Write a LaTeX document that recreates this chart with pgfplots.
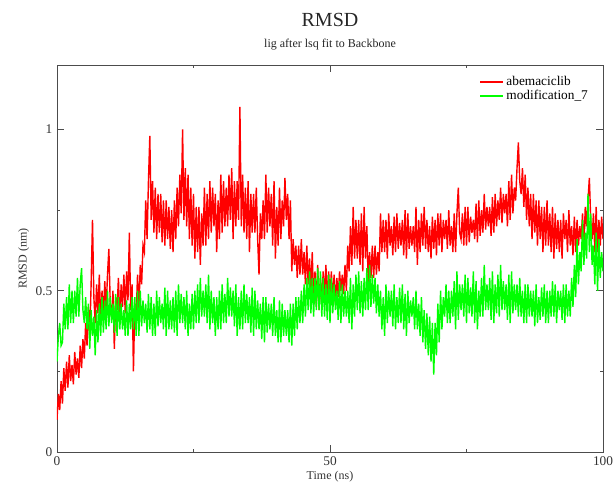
\documentclass[border=0pt]{standalone}
\usepackage{pgfplots}
\pgfplotsset{compat=1.18}
\usepackage{fontspec}
\setmainfont{Liberation Serif}
\definecolor{gracered}{RGB}{255,0,0}
\definecolor{gracegreen}{RGB}{0,255,0}
\begin{document}
\begin{tikzpicture}
\begin{axis}[
  scale only axis, width=409.5pt, height=290.25pt,
  xmin=0, xmax=100, ymin=0, ymax=1.2,
  xtick={0,50,100}, ytick={0,0.5,1},
  minor xtick={25,75}, minor ytick={0.25,0.75},
  tick align=inside, major tick length=5pt, minor tick length=2.5pt,
  axis line style={black!70, line width=0.7pt},
  every tick/.style={black!70, line width=0.7pt},
  /pgf/number format/assume math mode=true,
  tick label style={font=\fontsize{10}{12}\selectfont, text=black!80},
  yticklabel style={/pgf/number format/fixed},
  xlabel={Time (ns)}, ylabel={RMSD (nm)},
  label style={font=\fontsize{9}{11}\selectfont, text=black!80},
  xlabel style={yshift=3pt}, ylabel style={yshift=-2pt},
  legend style={draw=none, fill=none, at={(0.985,0.985)}, anchor=north east,
    font=\fontsize{10}{11}\selectfont, row sep=-2pt},
  legend cell align=left,
  clip=true,
]
\coordinate (ll) at (rel axis cs:0,0);
\coordinate (ur) at (rel axis cs:1,1);
\coordinate (tc) at (rel axis cs:0.5,1);
% abemaciclib, read every 0.25 ns
\addplot[gracered, line width=1.05pt] coordinates {
(0,0.10) (0.25,0.18) (0.5,0.13) (0.75,0.22)
(1,0.15) (1.25,0.26) (1.5,0.19) (1.75,0.28)
(2,0.20) (2.25,0.30) (2.5,0.22) (2.75,0.27)
(3,0.21) (3.25,0.31) (3.5,0.24) (3.75,0.29)
(4,0.23) (4.25,0.33) (4.5,0.26) (4.75,0.35)
(5,0.29) (5.25,0.40) (5.5,0.33) (5.75,0.45)
(6,0.36) (6.25,0.52) (6.5,0.72) (6.75,0.48)
(7,0.40) (7.25,0.52) (7.5,0.43) (7.75,0.55)
(8,0.40) (8.25,0.50) (8.5,0.42) (8.75,0.53)
(9,0.44) (9.25,0.55) (9.5,0.63) (9.75,0.46)
(10,0.42) (10.25,0.50) (10.5,0.32) (10.75,0.48)
(11,0.44) (11.25,0.54) (11.5,0.40) (11.75,0.52)
(12,0.45) (12.25,0.55) (12.5,0.43) (12.75,0.56)
(13,0.47) (13.25,0.68) (13.5,0.44) (13.75,0.52)
(14,0.25) (14.25,0.46) (14.5,0.42) (14.75,0.55)
(15,0.44) (15.25,0.58) (15.5,0.52) (15.75,0.64)
(16,0.62) (16.25,0.78) (16.5,0.66) (16.75,0.84)
(17,0.98) (17.25,0.72) (17.5,0.84) (17.75,0.68)
(18,0.82) (18.25,0.66) (18.5,0.80) (18.75,0.68)
(19,0.80) (19.25,0.65) (19.5,0.78) (19.75,0.64)
(20,0.78) (20.25,0.66) (20.5,0.76) (20.75,0.63)
(21,0.75) (21.25,0.62) (21.5,0.78) (21.75,0.66)
(22,0.82) (22.25,0.70) (22.5,0.86) (22.75,0.74)
(23,1.00) (23.25,0.72) (23.5,0.88) (23.75,0.70)
(24,0.86) (24.25,0.66) (24.5,0.82) (24.75,0.64)
(25,0.80) (25.25,0.60) (25.5,0.76) (25.75,0.62)
(26,0.76) (26.25,0.58) (26.5,0.74) (26.75,0.64)
(27,0.82) (27.25,0.64) (27.5,0.80) (27.75,0.66)
(28,0.84) (28.25,0.68) (28.5,0.82) (28.75,0.70)
(29,0.80) (29.25,0.62) (29.5,0.78) (29.75,0.66)
(30,0.86) (30.25,0.68) (30.5,0.84) (30.75,0.70)
(31,0.82) (31.25,0.70) (31.5,0.86) (31.75,0.72)
(32,0.88) (32.25,0.66) (32.5,0.84) (32.75,0.70)
(33,0.84) (33.25,0.72) (33.5,1.07) (33.75,0.70)
(34,0.86) (34.25,0.68) (34.5,0.82) (34.75,0.66)
(35,0.84) (35.25,0.62) (35.5,0.80) (35.75,0.68)
(36,0.80) (36.25,0.68) (36.5,0.82) (36.75,0.66)
(37,0.55) (37.25,0.74) (37.5,0.66) (37.75,0.78)
(38,0.66) (38.25,0.86) (38.5,0.68) (38.75,0.82)
(39,0.70) (39.25,0.80) (39.5,0.64) (39.75,0.84)
(40,0.60) (40.25,0.76) (40.5,0.64) (40.75,0.82)
(41,0.66) (41.25,0.78) (41.5,0.70) (41.75,0.85)
(42,0.72) (42.25,0.80) (42.5,0.66) (42.75,0.78)
(43,0.56) (43.25,0.66) (43.5,0.58) (43.75,0.64)
(44,0.54) (44.25,0.64) (44.5,0.55) (44.75,0.66)
(45,0.55) (45.25,0.62) (45.5,0.52) (45.75,0.64)
(46,0.52) (46.25,0.60) (46.5,0.50) (46.75,0.62)
(47,0.46) (47.25,0.56) (47.5,0.45) (47.75,0.58)
(48,0.44) (48.25,0.54) (48.5,0.46) (48.75,0.56)
(49,0.48) (49.25,0.58) (49.5,0.47) (49.75,0.56)
(50,0.48) (50.25,0.56) (50.5,0.46) (50.75,0.55)
(51,0.46) (51.25,0.54) (51.5,0.48) (51.75,0.56)
(52,0.50) (52.25,0.55) (52.5,0.49) (52.75,0.58)
(53,0.50) (53.25,0.64) (53.5,0.56) (53.75,0.70)
(54,0.58) (54.25,0.76) (54.5,0.60) (54.75,0.72)
(55,0.60) (55.25,0.72) (55.5,0.58) (55.75,0.74)
(56,0.56) (56.25,0.76) (56.5,0.60) (56.75,0.70)
(57,0.52) (57.25,0.62) (57.5,0.54) (57.75,0.64)
(58,0.54) (58.25,0.64) (58.5,0.55) (58.75,0.62)
(59,0.56) (59.25,0.74) (59.5,0.62) (59.75,0.72)
(60,0.62) (60.25,0.72) (60.5,0.60) (60.75,0.74)
(61,0.64) (61.25,0.70) (61.5,0.61) (61.75,0.73)
(62,0.62) (62.25,0.74) (62.5,0.63) (62.75,0.71)
(63,0.64) (63.25,0.72) (63.5,0.61) (63.75,0.75)
(64,0.60) (64.25,0.74) (64.5,0.63) (64.75,0.70)
(65,0.64) (65.25,0.70) (65.5,0.62) (65.75,0.76)
(66,0.58) (66.25,0.72) (66.5,0.62) (66.75,0.74)
(67,0.64) (67.25,0.76) (67.5,0.63) (67.75,0.72)
(68,0.62) (68.25,0.70) (68.5,0.60) (68.75,0.73)
(69,0.63) (69.25,0.72) (69.5,0.61) (69.75,0.74)
(70,0.64) (70.25,0.74) (70.5,0.62) (70.75,0.72)
(71,0.66) (71.25,0.72) (71.5,0.63) (71.75,0.75)
(72,0.64) (72.25,0.70) (72.5,0.62) (72.75,0.74)
(73,0.62) (73.25,0.74) (73.5,0.82) (73.75,0.68)
(74,0.66) (74.25,0.74) (74.5,0.64) (74.75,0.76)
(75,0.64) (75.25,0.76) (75.5,0.65) (75.75,0.73)
(76,0.68) (76.25,0.72) (76.5,0.66) (76.75,0.77)
(77,0.65) (77.25,0.78) (77.5,0.67) (77.75,0.75)
(78,0.68) (78.25,0.80) (78.5,0.69) (78.75,0.76)
(79,0.70) (79.25,0.76) (79.5,0.67) (79.75,0.79)
(80,0.68) (80.25,0.80) (80.5,0.70) (80.75,0.78)
(81,0.72) (81.25,0.82) (81.5,0.71) (81.75,0.80)
(82,0.74) (82.25,0.80) (82.5,0.70) (82.75,0.84)
(83,0.72) (83.25,0.86) (83.5,0.74) (83.75,0.82)
(84,0.78) (84.25,0.88) (84.5,0.96) (84.75,0.84)
(85,0.80) (85.25,0.88) (85.5,0.76) (85.75,0.86)
(86,0.72) (86.25,0.82) (86.5,0.70) (86.75,0.80)
(87,0.66) (87.25,0.80) (87.5,0.68) (87.75,0.78)
(88,0.64) (88.25,0.78) (88.5,0.66) (88.75,0.76)
(89,0.62) (89.25,0.76) (89.5,0.64) (89.75,0.78)
(90,0.64) (90.25,0.74) (90.5,0.62) (90.75,0.76)
(91,0.60) (91.25,0.74) (91.5,0.63) (91.75,0.72)
(92,0.62) (92.25,0.72) (92.5,0.60) (92.75,0.74)
(93,0.66) (93.25,0.72) (93.5,0.62) (93.75,0.75)
(94,0.64) (94.25,0.70) (94.5,0.61) (94.75,0.73)
(95,0.62) (95.25,0.72) (95.5,0.64) (95.75,0.70)
(96,0.66) (96.25,0.74) (96.5,0.63) (96.75,0.76)
(97,0.70) (97.25,0.78) (97.5,0.85) (97.75,0.72)
(98,0.66) (98.25,0.74) (98.5,0.62) (98.75,0.76)
(99,0.62) (99.25,0.72) (99.5,0.64) (99.75,0.73)
(100,0.66)
};
\addlegendentry{abemaciclib}
% modification_7, read every 0.25 ns
\addplot[gracegreen, line width=1.05pt] coordinates {
(0,0.28) (0.25,0.36) (0.5,0.40) (0.75,0.33)
(1,0.34) (1.25,0.46) (1.5,0.38) (1.75,0.48)
(2,0.38) (2.25,0.52) (2.5,0.40) (2.75,0.50)
(3,0.40) (3.25,0.50) (3.5,0.42) (3.75,0.54)
(4,0.42) (4.25,0.52) (4.5,0.57) (4.75,0.44)
(5,0.40) (5.25,0.48) (5.5,0.38) (5.75,0.46)
(6,0.32) (6.25,0.44) (6.5,0.36) (6.75,0.42)
(7,0.30) (7.25,0.44) (7.5,0.34) (7.75,0.46)
(8,0.36) (8.25,0.48) (8.5,0.37) (8.75,0.47)
(9,0.38) (9.25,0.50) (9.5,0.39) (9.75,0.48)
(10,0.40) (10.25,0.46) (10.5,0.37) (10.75,0.49)
(11,0.36) (11.25,0.48) (11.5,0.38) (11.75,0.46)
(12,0.38) (12.25,0.44) (12.5,0.36) (12.75,0.47)
(13,0.36) (13.25,0.46) (13.5,0.38) (13.75,0.48)
(14,0.38) (14.25,0.48) (14.5,0.36) (14.75,0.50)
(15,0.36) (15.25,0.50) (15.5,0.39) (15.75,0.47)
(16,0.40) (16.25,0.46) (16.5,0.37) (16.75,0.49)
(17,0.38) (17.25,0.48) (17.5,0.36) (17.75,0.46)
(18,0.36) (18.25,0.50) (18.5,0.39) (18.75,0.48)
(19,0.40) (19.25,0.46) (19.5,0.38) (19.75,0.51)
(20,0.36) (20.25,0.50) (20.5,0.38) (20.75,0.47)
(21,0.38) (21.25,0.48) (21.5,0.37) (21.75,0.50)
(22,0.36) (22.25,0.52) (22.5,0.40) (22.75,0.49)
(23,0.40) (23.25,0.48) (23.5,0.38) (23.75,0.50)
(24,0.36) (24.25,0.46) (24.5,0.38) (24.75,0.49)
(25,0.38) (25.25,0.50) (25.5,0.40) (25.75,0.52)
(26,0.40) (26.25,0.54) (26.5,0.42) (26.75,0.50)
(27,0.42) (27.25,0.52) (27.5,0.40) (27.75,0.55)
(28,0.38) (28.25,0.50) (28.5,0.40) (28.75,0.48)
(29,0.36) (29.25,0.48) (29.5,0.38) (29.75,0.50)
(30,0.38) (30.25,0.52) (30.5,0.40) (30.75,0.49)
(31,0.40) (31.25,0.54) (31.5,0.42) (31.75,0.51)
(32,0.42) (32.25,0.50) (32.5,0.39) (32.75,0.52)
(33,0.36) (33.25,0.48) (33.5,0.38) (33.75,0.50)
(34,0.38) (34.25,0.52) (34.5,0.40) (34.75,0.49)
(35,0.40) (35.25,0.48) (35.5,0.37) (35.75,0.51)
(36,0.36) (36.25,0.50) (36.5,0.38) (36.75,0.47)
(37,0.38) (37.25,0.46) (37.5,0.35) (37.75,0.48)
(38,0.34) (38.25,0.48) (38.5,0.37) (38.75,0.46)
(39,0.38) (39.25,0.46) (39.5,0.36) (39.75,0.48)
(40,0.36) (40.25,0.44) (40.5,0.34) (40.75,0.47)
(41,0.34) (41.25,0.46) (41.5,0.36) (41.75,0.44)
(42,0.36) (42.25,0.44) (42.5,0.34) (42.75,0.46)
(43,0.33) (43.25,0.46) (43.5,0.36) (43.75,0.48)
(44,0.38) (44.25,0.48) (44.5,0.40) (44.75,0.50)
(45,0.40) (45.25,0.52) (45.5,0.42) (45.75,0.54)
(46,0.44) (46.25,0.56) (46.5,0.43) (46.75,0.54)
(47,0.42) (47.25,0.54) (47.5,0.44) (47.75,0.57)
(48,0.44) (48.25,0.56) (48.5,0.42) (48.75,0.54)
(49,0.42) (49.25,0.52) (49.5,0.41) (49.75,0.55)
(50,0.40) (50.25,0.54) (50.5,0.43) (50.75,0.52)
(51,0.44) (51.25,0.50) (51.5,0.41) (51.75,0.53)
(52,0.40) (52.25,0.52) (52.5,0.42) (52.75,0.50)
(53,0.42) (53.25,0.50) (53.5,0.40) (53.75,0.54)
(54,0.38) (54.25,0.52) (54.5,0.42) (54.75,0.55)
(55,0.44) (55.25,0.56) (55.5,0.43) (55.75,0.53)
(56,0.42) (56.25,0.54) (56.5,0.44) (56.75,0.57)
(57,0.44) (57.25,0.58) (57.5,0.45) (57.75,0.55)
(58,0.46) (58.25,0.54) (58.5,0.43) (58.75,0.52)
(59,0.42) (59.25,0.50) (59.5,0.38) (59.75,0.48)
(60,0.36) (60.25,0.52) (60.5,0.40) (60.75,0.50)
(61,0.42) (61.25,0.50) (61.5,0.39) (61.75,0.52)
(62,0.38) (62.25,0.48) (62.5,0.40) (62.75,0.51)
(63,0.40) (63.25,0.52) (63.5,0.38) (63.75,0.49)
(64,0.36) (64.25,0.50) (64.5,0.40) (64.75,0.47)
(65,0.42) (65.25,0.48) (65.5,0.38) (65.75,0.50)
(66,0.38) (66.25,0.46) (66.5,0.36) (66.75,0.48)
(67,0.34) (67.25,0.44) (67.5,0.32) (67.75,0.43)
(68,0.30) (68.25,0.42) (68.5,0.28) (68.75,0.40)
(69,0.24) (69.25,0.40) (69.5,0.30) (69.75,0.46)
(70,0.34) (70.25,0.50) (70.5,0.38) (70.75,0.48)
(71,0.42) (71.25,0.52) (71.5,0.40) (71.75,0.50)
(72,0.40) (72.25,0.50) (72.5,0.42) (72.75,0.53)
(73,0.38) (73.25,0.56) (73.5,0.41) (73.75,0.52)
(74,0.44) (74.25,0.52) (74.5,0.42) (74.75,0.55)
(75,0.40) (75.25,0.54) (75.5,0.43) (75.75,0.51)
(76,0.42) (76.25,0.56) (76.5,0.40) (76.75,0.53)
(77,0.38) (77.25,0.50) (77.5,0.42) (77.75,0.54)
(78,0.42) (78.25,0.58) (78.5,0.44) (78.75,0.52)
(79,0.44) (79.25,0.54) (79.5,0.41) (79.75,0.56)
(80,0.40) (80.25,0.52) (80.5,0.43) (80.75,0.55)
(81,0.42) (81.25,0.58) (81.5,0.44) (81.75,0.53)
(82,0.44) (82.25,0.52) (82.5,0.41) (82.75,0.55)
(83,0.40) (83.25,0.56) (83.5,0.43) (83.75,0.52)
(84,0.44) (84.25,0.52) (84.5,0.42) (84.75,0.54)
(85,0.42) (85.25,0.50) (85.5,0.40) (85.75,0.52)
(86,0.40) (86.25,0.52) (86.5,0.42) (86.75,0.50)
(87,0.42) (87.25,0.50) (87.5,0.39) (87.75,0.52)
(88,0.40) (88.25,0.48) (88.5,0.41) (88.75,0.51)
(89,0.42) (89.25,0.52) (89.5,0.40) (89.75,0.50)
(90,0.40) (90.25,0.50) (90.5,0.42) (90.75,0.53)
(91,0.42) (91.25,0.52) (91.5,0.40) (91.75,0.50)
(92,0.44) (92.25,0.50) (92.5,0.41) (92.75,0.52)
(93,0.40) (93.25,0.52) (93.5,0.42) (93.75,0.50)
(94,0.42) (94.25,0.54) (94.5,0.45) (94.75,0.58)
(95,0.48) (95.25,0.66) (95.5,0.52) (95.75,0.62)
(96,0.56) (96.25,0.72) (96.5,0.58) (96.75,0.68)
(97,0.60) (97.25,0.80) (97.5,0.62) (97.75,0.74)
(98,0.58) (98.25,0.64) (98.5,0.52) (98.75,0.68)
(99,0.50) (99.25,0.66) (99.5,0.54) (99.75,0.62)
(100,0.56)
};
\addlegendentry{modification\_7}
\end{axis}
\node[font=\fontsize{15}{16}\selectfont, text=black!85] at ([yshift=34pt]tc) {RMSD};
\node[font=\fontsize{9}{10}\selectfont, text=black!85] at ([yshift=15pt]tc) {lig after lsq fit to Backbone};
\pgfresetboundingbox
\path ([xshift=-42.75pt,yshift=-26.25pt]ll) rectangle ([xshift=7.5pt,yshift=48.75pt]ur);
\end{tikzpicture}
\end{document}
